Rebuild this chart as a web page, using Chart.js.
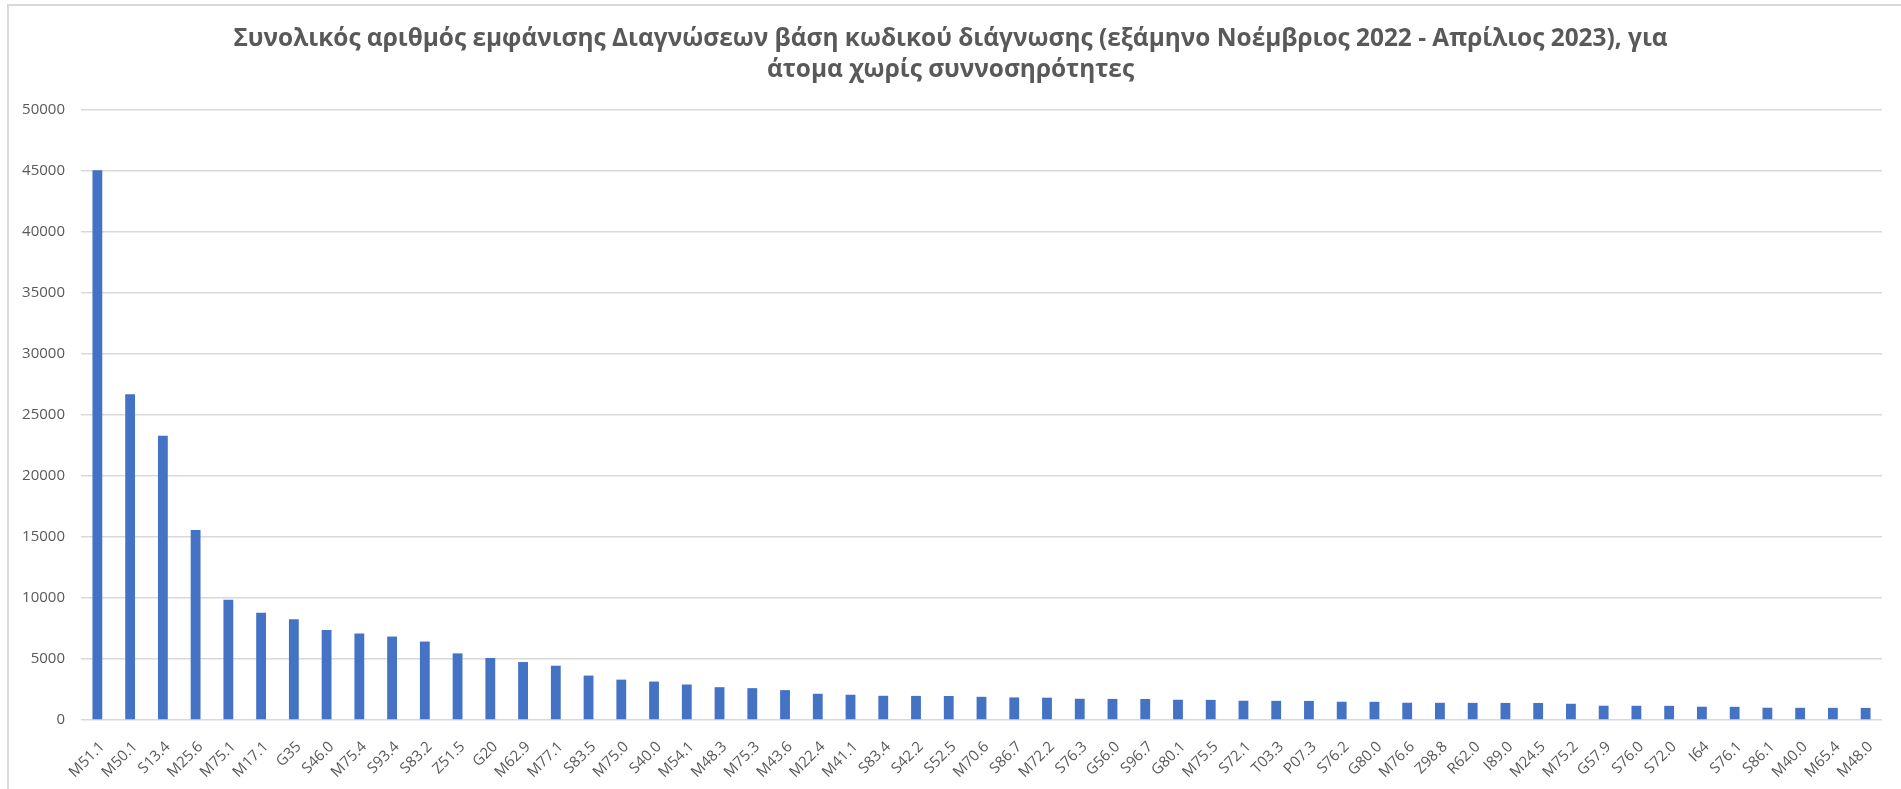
<!DOCTYPE html>
<html>
<head>
<meta charset="utf-8">
<title>Διαγνώσεις</title>
<script src="https://cdn.jsdelivr.net/npm/chart.js@4.4.0/dist/chart.umd.min.js"></script>
<style>
    html, body { margin: 0; padding: 0; background: #ffffff; }
    #wrap { position: relative; width: 1901px; height: 789px; overflow: hidden; }
    #frame {
        position: absolute; left: 7px; top: 4px; right: -4px; bottom: -4px;
        border-top: 2px solid #d9d9d9; border-left: 2px solid #d9d9d9;
    }
    #diagChart { position: absolute; left: 0; top: 0; }
</style>
</head>
<body>
<div id="wrap">
    <div id="frame"></div>
    <canvas id="diagChart" width="1901" height="789"></canvas>
</div>
<script>
// Chart text
const titleLines = [
    'Συνολικός αριθμός εμφάνισης Διαγνώσεων βάση κωδικού διάγνωσης (εξάμηνο Νοέμβριος 2022 - Απρίλιος 2023), για',
    'άτομα χωρίς συννοσηρότητες'
];

// Diagnosis codes (x axis)
const codes = [
    'M51.1', 'M50.1', 'S13.4', 'M25.6', 'M75.1', 'M17.1', 'G35', 'S46.0', 'M75.4', 'S93.4',
    'S83.2', 'Z51.5', 'G20', 'M62.9', 'M77.1', 'S83.5', 'M75.0', 'S40.0', 'M54.1', 'M48.3',
    'M75.3', 'M43.6', 'M22.4', 'M41.1', 'S83.4', 'S42.2', 'S52.5', 'M70.6', 'S86.7', 'M72.2',
    'S76.3', 'G56.0', 'S96.7', 'G80.1', 'M75.5', 'S72.1', 'T03.3', 'P07.3', 'S76.2', 'G80.0',
    'M76.6', 'Z98.8', 'R62.0', 'I89.0', 'M24.5', 'M75.2', 'G57.9', 'S76.0', 'S72.0', 'I64',
    'S76.1', 'S86.1', 'M40.0', 'M65.4', 'M48.0'
];

// Number of occurrences per code
const counts = [
    45050, 26700, 23300, 15570, 9860, 8800, 8250, 7380, 7080, 6840,
    6430, 5460, 5080, 4750, 4450, 3640, 3310, 3150, 2910, 2690,
    2610, 2450, 2150, 2070, 1985, 1975, 1965, 1900, 1850, 1830,
    1740, 1730, 1720, 1660, 1650, 1580, 1570, 1565, 1495, 1490,
    1415, 1410, 1405, 1400, 1395, 1330, 1170, 1165, 1160, 1090,
    1080, 1005, 1000, 995, 990
];

// Y axis tick labels
const yTicks = [0, 5000, 10000, 15000, 20000, 25000, 30000, 35000, 40000, 45000, 50000];

document.addEventListener('DOMContentLoaded', function() {
    initializeDiagnosisChart();
});

/**
 * Bar chart of diagnosis code counts
 */
function initializeDiagnosisChart() {
    const canvas = document.getElementById('diagChart');
    if (!canvas) return;

    const ctx = canvas.getContext('2d');

    new Chart(ctx, {
        type: 'bar',
        data: {
            labels: codes,
            datasets: [{
                label: 'Πλήθος',
                data: counts,
                backgroundColor: '#4472c4',
                borderWidth: 0,
                barPercentage: 0.3,
                categoryPercentage: 1.0
            }]
        },
        options: {
            responsive: false,
            animation: false,
            layout: {
                padding: { left: 19, right: 19, top: 0, bottom: 0 }
            },
            scales: {
                x: {
                    grid: { display: false, drawTicks: false },
                    border: { display: false },
                    ticks: {
                        autoSkip: false,
                        minRotation: 45,
                        maxRotation: 45,
                        padding: 18,
                        labelOffset: 5,
                        color: '#595959',
                        font: { family: '"Open Sans", sans-serif', size: 15 }
                    },
                    afterFit: function(axis) {
                        axis.height = 69;
                    }
                },
                y: {
                    min: 0,
                    max: 50000,
                    afterBuildTicks: function(axis) {
                        axis.ticks = yTicks.map(v => ({ value: v }));
                    },
                    grid: {
                        color: '#d9d9d9',
                        lineWidth: 1.5,
                        drawTicks: false
                    },
                    border: { display: false },
                    ticks: {
                        padding: 16,
                        color: '#595959',
                        font: { family: '"Open Sans", sans-serif', size: 15 },
                        callback: function(value) {
                            return String(value);
                        }
                    },
                    afterFit: function(axis) {
                        axis.width = 62;
                    }
                }
            },
            plugins: {
                legend: { display: false },
                tooltip: { enabled: false },
                title: {
                    display: true,
                    text: titleLines,
                    color: '#595959',
                    font: { family: '"Open Sans", sans-serif', size: 24.4, weight: 'bold', lineHeight: 1.27 },
                    padding: { top: 24, bottom: 24 }
                }
            }
        }
    });
}
</script>
</body>
</html>
